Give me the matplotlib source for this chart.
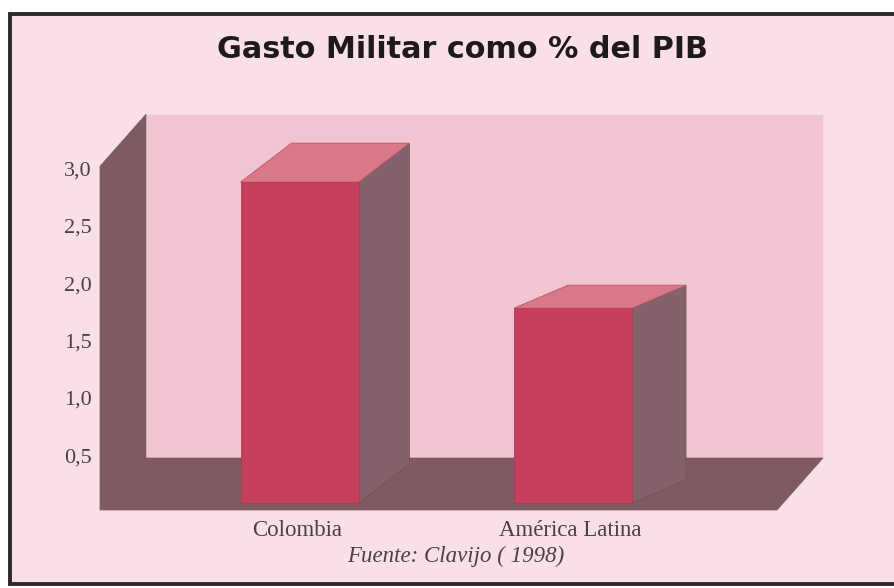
import matplotlib
matplotlib.use("Agg")
import matplotlib.pyplot as plt
from matplotlib.patches import Polygon, Rectangle
from matplotlib.transforms import offset_copy

# ---- data -------------------------------------------------------------
categories = ["Colombia", "América Latina"]
values = [2.8, 1.7]                      # gasto militar, % del PIB
tick_values = [0.5, 1.0, 1.5, 2.0, 2.5, 3.0]
tick_labels = ["0,5", "1,0", "1,5", "2,0", "2,5", "3,0"]
y_max = 3.0

title = "Gasto Militar como % del PIB"
source = "Fuente: Clavijo ( 1998)"

# ---- colours ------------------------------------------------------------
PAGE = "#f9dfe8"
WALL_BACK = "#f2c3d1"
WALL_DARK = "#7f5a63"
BAR_FRONT = "#c6405b"
BAR_TOP = "#d97886"
BAR_SIDE = "#84626b"
TEXT = "#4a4048"

# ---- figure ----------------------------------------------------------------
W, H = 895, 588
fig = plt.figure(figsize=(W / 100, H / 100), dpi=100)
fig.patch.set_facecolor("white")
ax = fig.add_axes([0, 0, 1, 1])
ax.axis("off")

# pixel scale of the category / value axes
px_x, px_y = 273.5, 114.6
x0_px, floor_px = 293.5, 510.0
ax.set_xlim(-x0_px / px_x, (W - x0_px) / px_x)
ax.set_ylim((floor_px - H) / px_y, floor_px / px_y)

# framed panel
ax.add_patch(Rectangle((10 / W, 1 - 584 / H), 1.0, (584 - 14) / H,
                       transform=ax.transAxes, facecolor=PAGE,
                       edgecolor="#2e2a2c", linewidth=2.8, zorder=0))

# 3-D box: depth offsets converted to data units
depth_x, depth_y = 46 / px_x, 52 / px_y
x_left, x_right = -0.7075, 1.768

back = Rectangle((x_left + depth_x, depth_y), x_right - x_left, y_max,
                 facecolor=WALL_BACK, edgecolor="#f6d8e1", linewidth=1.0, zorder=1)
ax.add_patch(back)

left_wall = Polygon([(x_left, 0), (x_left, y_max),
                     (x_left + depth_x, y_max + depth_y),
                     (x_left + depth_x, depth_y)],
                    closed=True, facecolor=WALL_DARK, edgecolor=WALL_DARK,
                    linewidth=0.5, zorder=2)
ax.add_patch(left_wall)

floor = Polygon([(x_left, 0), (x_right, 0),
                 (x_right + depth_x, depth_y), (x_left + depth_x, depth_y)],
                closed=True, facecolor=WALL_DARK, edgecolor=WALL_DARK,
                linewidth=0.5, zorder=2)
ax.add_patch(floor)

# bars
bar_w = 118 / px_x
recess_x, recess_y = 6 / px_x, 7 / px_y
bar_depth_px = [(51, 39), (54, 23)]

for i, (v, (dpx, dpy)) in enumerate(zip(values, bar_depth_px)):
    dx, dy = dpx / px_x, dpy / px_y
    L = i + recess_x - bar_w / 2
    R = L + bar_w
    b = recess_y
    t = v + recess_y
    side = Polygon([(R, b), (R, t), (R + dx, t + dy), (R + dx, b + dy)],
                   closed=True, facecolor=BAR_SIDE, edgecolor="#74545c",
                   linewidth=0.6, zorder=3)
    top = Polygon([(L, t), (R, t), (R + dx, t + dy), (L + dx, t + dy)],
                  closed=True, facecolor=BAR_TOP, edgecolor="#b85a6b",
                  linewidth=0.6, zorder=4)
    front = Rectangle((L, b), bar_w, v, facecolor=BAR_FRONT,
                      edgecolor="#b23a52", linewidth=0.6, zorder=5)
    for p in (side, top, front):
        ax.add_patch(p)
    ax.text(i + recess_x - 0.01, -0.18, categories[i], ha="center", va="center",
            fontsize=16.5, family="Liberation Serif", color=TEXT, zorder=6)

# value axis labels
lab_tr = offset_copy(ax.transData, fig=fig, x=0, y=-5, units="dots")
lab_x = (92 - x0_px) / px_x
for tv, tl in zip(tick_values, tick_labels):
    ax.text(lab_x, tv, tl, ha="right", va="center", fontsize=16,
            family="Liberation Serif", color=TEXT, transform=lab_tr, zorder=6)

# title and source
fig.text(463 / W, 1 - 50 / H, title, ha="center", va="center",
         fontsize=21.8, fontweight="bold", family="DejaVu Sans", color="#1e1a1c")
fig.text(456 / W, 1 - 556 / H, source, ha="center", va="center",
         fontsize=16.5, style="italic", family="Liberation Serif", color=TEXT)

fig.savefig("out.png", dpi=100, facecolor=fig.get_facecolor())
